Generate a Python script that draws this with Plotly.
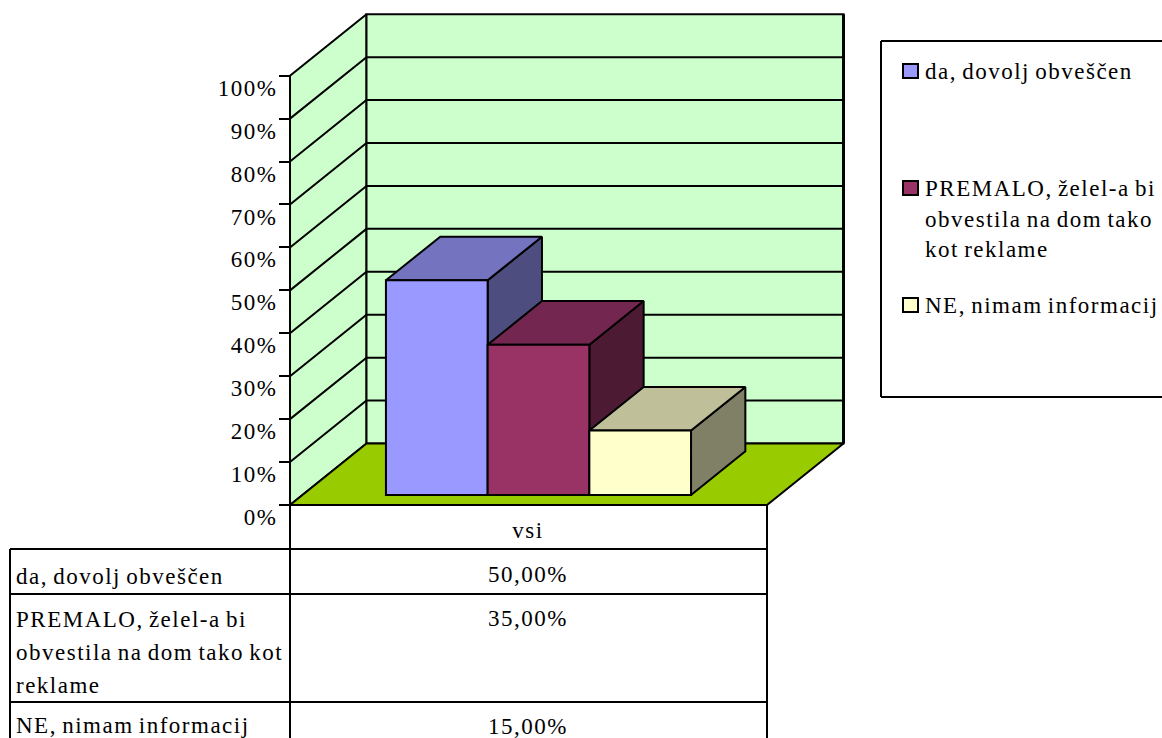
import plotly.graph_objects as go

# podatki
serie = ['da, dovolj obveščen', 'PREMALO, želel-a bi obvestila na dom tako kot reklame', 'NE, nimam informacij']
vrednosti = [50.0, 35.0, 15.0]
kategorija = 'vsi'
tick_vals = [0, 10, 20, 30, 40, 50, 60, 70, 80, 90, 100]
tick_text = ['0%', '10%', '20%', '30%', '40%', '50%', '60%', '70%', '80%', '90%', '100%']

# barve: spredaj, zgoraj, desno
barve_spredaj = ['#9999FF', '#993366', '#FFFFCC']
barve_zgoraj = ['#7373BF', '#732650', '#BFBF99']
barve_desno = ['#4D4D80', '#4D1A33', '#808066']
STENA = '#CCFFCC'
TLA = '#99CC00'

W, H = 1162, 738
FONT = 'Liberation Serif'
PISAVA = 23

# os x: 0 = leva stran kategorije, 1 = desna; os y je v odstotkih
OS_X0, OS_SIR = 290, 477
OS_Y0, PX_NA_PROC = 505, 4.293
GLOBINA_X = 76.5 / OS_SIR
GLOBINA_V = 61.5 / PX_NA_PROC

# stolpci znotraj 3d prostora
STOLPEC_U0 = 0.175
STOLPEC_SIR = 0.2132
Z_SPREDAJ = 0.163
Z_ZADAJ = 0.873


def proj(u, v, z):
    return u + z * GLOBINA_X, v + z * GLOBINA_V


def ploskev(tocke, barva, zorder, sirina=2):
    xs = [proj(*t)[0] for t in tocke]
    ys = [proj(*t)[1] for t in tocke]
    return go.Scatter(x=xs + xs[:1], y=ys + ys[:1], mode='lines', fill='toself', fillcolor=barva,
                      line=dict(color='black', width=sirina), zorder=zorder, showlegend=False, hoverinfo='skip')


def crta(tocke, zorder=0, sirina=2):
    xs = [proj(*t)[0] for t in tocke]
    ys = [proj(*t)[1] for t in tocke]
    return go.Scatter(x=xs, y=ys, mode='lines', line=dict(color='black', width=sirina),
                      zorder=zorder, showlegend=False, hoverinfo='skip')


fig = go.Figure()

# stene in tla
fig.add_trace(ploskev([(0, 0, 0), (0, 100, 0), (0, 100, 1), (0, 0, 1)], STENA, 0))
fig.add_trace(ploskev([(0, 0, 1), (0, 100, 1), (1, 100, 1), (1, 0, 1)], STENA, 0))
fig.add_trace(ploskev([(0, 0, 0), (1, 0, 0), (1, 0, 1), (0, 0, 1)], TLA, 0))
for t in tick_vals[1:-1]:
    fig.add_trace(crta([(0, t, 0), (0, t, 1), (1, t, 1)]))
fig.add_trace(crta([(1, 0, 1), (1, 100, 1)], sirina=3))
fig.add_trace(crta([(0, 0, 0), (0, 100, 0)], zorder=1))

# stolpci
for i, v in enumerate(vrednosti):
    u0 = STOLPEC_U0 + i * STOLPEC_SIR
    u1 = u0 + STOLPEC_SIR
    zo = 2 + 2 * i
    fig.add_trace(ploskev([(u1, 0, Z_SPREDAJ), (u1, v, Z_SPREDAJ), (u1, v, Z_ZADAJ), (u1, 0, Z_ZADAJ)], barve_desno[i], zo))
    fig.add_trace(ploskev([(u0, v, Z_SPREDAJ), (u1, v, Z_SPREDAJ), (u1, v, Z_ZADAJ), (u0, v, Z_ZADAJ)], barve_zgoraj[i], zo))
    sx = proj(u0 + STOLPEC_SIR / 2, 0, Z_SPREDAJ)[0]
    fig.add_trace(go.Bar(x=[sx], y=[v], base=[Z_SPREDAJ * GLOBINA_V], width=[STOLPEC_SIR], name=serie[i],
                         marker=dict(color=barve_spredaj[i], line=dict(color='black', width=2)),
                         zorder=zo + 1, showlegend=False))


# vse ostalo je v pikslih slike
def px(x):
    return x / W


def py(y):
    return 1 - y / H


def linija(x0, y0, x1, y1, sirina=2):
    fig.add_shape(type='line', xref='paper', yref='paper', x0=px(x0), y0=py(y0), x1=px(x1), y1=py(y1),
                  line=dict(color='black', width=sirina))


def besedilo(x, y, txt, pozicija='middle right'):
    # tekst kot scatter, ker anotacije merijo sirino brez razmika med crkami
    fig.add_trace(go.Scatter(x=[(x - OS_X0) / OS_SIR], y=[(OS_Y0 - y - 2) / PX_NA_PROC], mode='text', text=[txt],
                             textposition=pozicija, textfont=dict(family=FONT, size=PISAVA, color='black'),
                             marker=dict(size=1), zorder=20, showlegend=False, hoverinfo='skip'))


# tabela
linija(290, 505, 290, 738)
linija(767, 505, 767, 738)
linija(10, 549, 10, 738)
linija(10, 549, 767, 549)
linija(10, 594, 767, 594)
linija(10, 702, 767, 702)
linija(290, 505, 767, 505)

besedilo(528, 530, kategorija, 'middle center')
for y, v in zip([574, 618, 726], vrednosti):
    besedilo(528, y, f'{v:.2f}'.replace('.', ',') + '%', 'middle center')

vrstice_tabela = [['da, dovolj obveščen'], ['PREMALO, želel-a bi', 'obvestila na dom tako kot', 'reklame'], ['NE, nimam informacij']]
for ys, vrstice in zip([[576], [619, 652, 685], [725]], vrstice_tabela):
    for y, t in zip(ys, vrstice):
        besedilo(16, y, t)

# legenda
linija(881, 41, W, 41)
linija(881, 397, W, 397)
linija(881, 41, 881, 397)

vrstice_legenda = [['da, dovolj obveščen'], ['PREMALO, želel-a bi', 'obvestila na dom tako', 'kot reklame'], ['NE, nimam informacij']]
for i, (ys, vrstice) in enumerate(zip([[71], [188, 219, 249], [305]], vrstice_legenda)):
    fig.add_shape(type='rect', xref='paper', yref='paper', x0=px(903), x1=px(918), y0=py(ys[0] - 7), y1=py(ys[0] + 7),
                  fillcolor=barve_spredaj[i], line=dict(color='black', width=2))
    for y, t in zip(ys, vrstice):
        besedilo(925, y, t)

fig.update_layout(
    width=W, height=H, margin=dict(l=0, r=0, t=0, b=0), paper_bgcolor='white', plot_bgcolor='white',
    barmode='overlay', showlegend=False,
    xaxis=dict(range=[-OS_X0 / OS_SIR, (W - OS_X0) / OS_SIR], visible=False, fixedrange=True),
    yaxis=dict(range=[(OS_Y0 - H) / PX_NA_PROC, OS_Y0 / PX_NA_PROC], tickmode='array', tickvals=tick_vals, ticktext=tick_text,
               anchor='free', position=OS_X0 / W, showgrid=False, zeroline=False, showline=False,
               ticks='outside', ticklen=11, tickwidth=2, tickcolor='black', ticklabelshift=12, ticklabelstandoff=-3,
               tickfont=dict(family=FONT, size=PISAVA, color='black'), automargin=False, fixedrange=True),
)

# razmik med crkami, brez roba strani
skripta = """
document.body.style.margin = '0';
var s = document.createElement('style');
s.textContent = 'svg text { letter-spacing: 1.5px; word-spacing: -2px; }';
document.head.appendChild(s);
"""
fig.write_html("out.html", post_script=skripta, config=dict(displayModeBar=False))
